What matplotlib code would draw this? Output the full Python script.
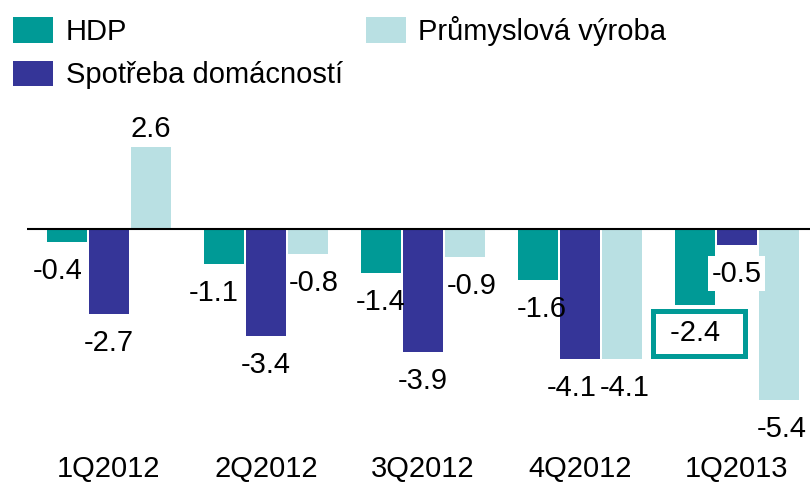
import matplotlib
matplotlib.use("Agg")
import matplotlib.pyplot as plt
import numpy as np
from matplotlib.patches import Patch

categories = ["1Q2012", "2Q2012", "3Q2012", "4Q2012", "1Q2013"]
hdp = [-0.4, -1.1, -1.4, -1.6, -2.4]
spotreba = [-2.7, -3.4, -3.9, -4.1, -0.5]
prumysl = [2.6, -0.8, -0.9, -4.1, -5.4]
series_names = ["HDP", "Spotřeba domácností", "Průmyslová výroba"]
colors = ["#009A96", "#353598", "#B9E0E3"]

plt.rcParams['font.family'] = ['Liberation Sans', 'DejaVu Sans']
FS = 21

fig = plt.figure(figsize=(8.1, 4.99), dpi=100)
ax = fig.add_axes([27/810, (499-440)/499, 783/810, 320/499])

x = np.arange(len(categories))
w = 0.255
step = 0.2675
series = [hdp, spotreba, prumysl]

# label x-offsets in pixels (style only)
label_dx = {(0, 0): -9, (0, 1): -10, (0, 3): 4, (2, 1): 6, (2, 2): 7,
            (1, 3): -8, (2, 3): 3, (2, 4): 3}

for si, vals in enumerate(series):
    xs = x + (si - 1) * step
    ax.bar(xs, vals, width=w, color=colors[si], zorder=2)
    for i, (xi, v) in enumerate(zip(xs, vals)):
        dx = label_dx.get((si, i), 0) * 0.72
        txt = f"{v:.1f}"
        kw = dict(fontsize=FS, ha='center', textcoords='offset points', zorder=5)
        if si == 0 and i == 4:
            ax.annotate(" " + txt + "  ", (xi, v), xytext=(dx + 3, -10.5), va='top',
                        bbox=dict(boxstyle='square,pad=0.3', fc='white',
                                  ec=colors[0], lw=3.6), **kw)
        elif si == 1 and i == 4:
            ax.annotate(txt, (xi, v), xytext=(dx, -10.8), va='top',
                        bbox=dict(boxstyle='square,pad=0.12', fc='white', ec='none'), **kw)
        elif v >= 0:
            ax.annotate(txt, (xi, v), xytext=(dx, 3), va='bottom', **kw)
        else:
            ax.annotate(txt, (xi, v), xytext=(dx, -10.8), va='top', **kw)

ax.axhline(0, color='black', lw=1.5, zorder=3)
ax.set_xlim(-0.522, 4.465)
ax.set_ylim(-(440-229)/31.6, (229-120)/31.6)
for s in ax.spines.values():
    s.set_visible(False)
ax.set_yticks([])
ax.set_xticks(x)
ax.set_xticklabels(categories, fontsize=FS)
ax.tick_params(axis='x', length=0, pad=11)

handles = [Patch(facecolor=c) for c in colors]
fig.legend(handles, series_names, loc='upper left', bbox_to_anchor=(13/810, 1 - 16/499),
           ncol=2, frameon=False, fontsize=FS, handlelength=1.36, handleheight=0.95,
           handletextpad=0.44, labelspacing=0.5, columnspacing=0.8,
           borderpad=0, borderaxespad=0)

fig.savefig("out.png", dpi=100)
